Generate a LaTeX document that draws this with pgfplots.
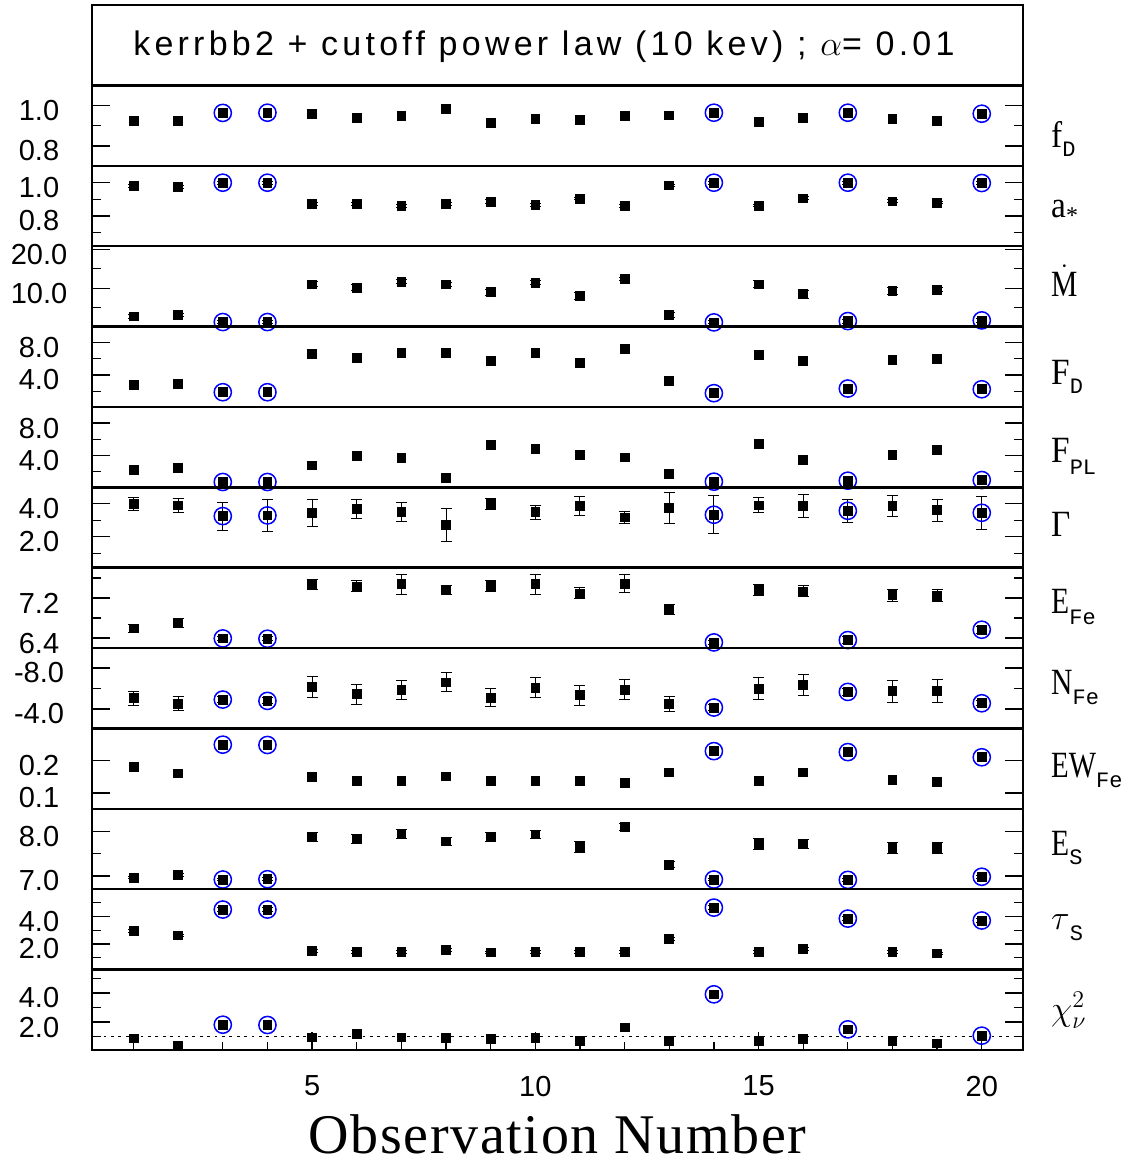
\documentclass[border=0pt]{standalone}
\usepackage{pgfplots}
\pgfplotsset{compat=1.18}
\usepgfplotslibrary{groupplots}
\usepackage{fontspec}
\setmainfont{Liberation Sans}
\newfontfamily\lserif{Liberation Serif}
\newfontfamily\lmono{Liberation Mono}
\newfontfamily\titlefont[LetterSpace=12.5]{Liberation Sans}
\newfontfamily\xlabfont[LetterSpace=3]{Liberation Serif}

% #1 raise of subscript, #2 horizontal scale, #3 main, #4 subscript
\newcommand{\lab}[4]{\scalebox{#2}[1]{\lserif\fontsize{18.5}{18.5}\selectfont #3}\raisebox{#1}{\lmono\fontsize{11}{11}\selectfont #4}}

\pgfplotsset{
 sq/.style={only marks, mark=square*, mark size=2.2pt, black},
 circ/.style={only marks, mark=o, mark size=4.3pt, blue, mark options={line width=0.75pt}},
 eb/.style={error bars/y dir=both, error bars/y explicit,
   error bars/error bar style={line width=0.5pt, black},
   error bars/error mark options={rotate=90, mark size=2.75pt, line width=0.5pt, black}},
}

\begin{document}
\begin{tikzpicture}
\begin{groupplot}[
  group style={group name=G, group size=1 by 13, vertical sep=0pt},
  width=465.5pt, height=40.2pt, scale only axis,
  xmin=0.07, xmax=20.92,
  axis line style={line width=1.2pt},
  tick align=inside,
  major tick length=9pt, minor tick length=4.5pt,
  tick style={line width=0.65pt, black},
  ticklabel style={font=\fontsize{14.5}{14.5}\selectfont},
  /pgf/number format/assume math mode=true,
  yticklabel style={/pgf/number format/.cd, fixed, fixed zerofill, precision=1, /tikz/.cd, anchor=center, xshift=-26.5pt, yshift=-2.5pt},
]
% title box
\nextgroupplot[xtick=\empty, ytick=\empty, ymin=0, ymax=1]
% f_D
\nextgroupplot[xtick=\empty, ymin=0.701, ymax=1.101, ytick={0.8,1.0}, minor ytick={0.9}]
\addplot[circ] coordinates {(3,0.964)(4,0.965)(14,0.965)(17,0.965)(20,0.960)};
\addplot[sq] coordinates {(1,0.926)(2,0.926)(3,0.964)(4,0.965)(5,0.959)(6,0.940)(7,0.950)(8,0.985)(9,0.916)(10,0.936)(11,0.931)(12,0.950)(13,0.952)(14,0.965)(15,0.921)(16,0.940)(17,0.965)(18,0.936)(19,0.926)(20,0.960)};
% a_*
\nextgroupplot[xtick=\empty, ymin=0.618, ymax=1.102, ytick={0.8,1.0}, minor ytick={0.7,0.9}]
\addplot[circ] coordinates {(3,1.0)(4,1.0)(14,1.0)(17,1.0)(20,0.998)};
\addplot[sq, eb] table[x=x, y=y, y error=e] {
x y e
1 0.982 0.008
2 0.976 0.008
3 1.000 0.010
4 1.000 0.010
5 0.870 0.008
6 0.870 0.008
7 0.858 0.008
8 0.870 0.008
9 0.886 0.010
10 0.864 0.008
11 0.904 0.008
12 0.858 0.008
13 0.984 0.008
14 1.000 0.010
15 0.862 0.008
16 0.906 0.010
17 1.000 0.010
18 0.888 0.008
19 0.880 0.008
20 0.998 0.010
};
% Mdot
\nextgroupplot[xtick=\empty, ymin=0.2, ymax=20.77, ytick={10,20}, minor ytick={5,15}]
\addplot[circ] coordinates {(3,1.35)(4,1.35)(14,1.26)(17,1.6)(20,1.77)};
\addplot[sq, eb] table[x=x, y=y, y error=e] {
x y e
1 2.80 0.45
2 3.14 0.5
3 1.35 0.45
4 1.35 0.45
5 11.0 0.6
6 10.17 0.7
7 11.7 0.6
8 11.0 0.5
9 8.97 0.8
10 11.37 0.5
11 8.10 0.9
12 12.3 0.4
13 3.14 0.6
14 1.26 0.4
15 11.0 0.9
16 8.46 1.0
17 1.60 0.5
18 9.23 0.9
19 9.66 0.6
20 1.77 0.5
};
% F_D
\nextgroupplot[xtick=\empty, ymin=0.08, ymax=9.92, ytick={4,8}, minor ytick={2,6}]
\addplot[circ] coordinates {(3,1.88)(4,1.88)(14,1.76)(17,2.33)(20,2.24)};
\addplot[sq] coordinates {(1,2.82)(2,2.94)(3,1.88)(4,1.88)(5,6.61)(6,6.12)(7,6.73)(8,6.73)(9,5.76)(10,6.73)(11,5.51)(12,7.22)(13,3.27)(14,1.76)(15,6.41)(16,5.76)(17,2.33)(18,5.84)(19,6.00)(20,2.24)};
% F_PL
\nextgroupplot[xtick=\empty, ymin=0.03, ymax=10.01, ytick={4,8}, minor ytick={2,6}]
\addplot[circ] coordinates {(3,0.69)(4,0.69)(14,0.73)(17,0.85)(20,0.93)};
\addplot[sq] coordinates {(1,2.17)(2,2.41)(3,0.69)(4,0.69)(5,2.74)(6,3.93)(7,3.69)(8,1.18)(9,5.25)(10,4.76)(11,4.01)(12,3.73)(13,1.67)(14,0.73)(15,5.37)(16,3.48)(17,0.85)(18,4.05)(19,4.63)(20,0.93)};
% Gamma
\nextgroupplot[xtick=\empty, ymin=0.13, ymax=4.99, ytick={2,4}, minor ytick={1,3}]
\addplot[circ] coordinates {(3,3.25)(4,3.29)(14,3.33)(17,3.57)(20,3.45)};
\addplot[sq, eb] table[x=x, y=y, y error=e] {
x y e
1 3.98 0.42
2 3.90 0.41
3 3.25 0.85
4 3.29 0.96
5 3.43 0.83
6 3.68 0.57
7 3.49 0.57
8 2.72 1.00
9 3.98 0.35
10 3.49 0.43
11 3.86 0.58
12 3.17 0.37
13 3.74 0.91
14 3.33 1.14
15 3.90 0.46
16 3.86 0.67
17 3.57 0.69
18 3.86 0.61
19 3.61 0.66
20 3.45 1.00
};
% E_Fe
\nextgroupplot[xtick=\empty, ymin=6.2, ymax=7.807, ytick={6.4,7.2}, minor ytick={6.8,7.6}]
\addplot[circ] coordinates {(3,6.393)(4,6.387)(14,6.313)(17,6.36)(20,6.567)};
\addplot[sq, eb] table[x=x, y=y, y error=e] {
x y e
1 6.593 0.073
2 6.700 0.087
3 6.393 0.04
4 6.387 0.04
5 7.467 0.10
6 7.433 0.11
7 7.480 0.20
8 7.367 0.09
9 7.447 0.11
10 7.480 0.20
11 7.293 0.11
12 7.487 0.18
13 6.973 0.10
14 6.313 0.04
15 7.367 0.11
16 7.333 0.11
17 6.360 0.07
18 7.260 0.12
19 7.247 0.12
20 6.567 0.07
};
% N_Fe
\nextgroupplot[xtick=\empty, y dir=reverse, ymin=-9.95, ymax=-2.08, ytick={-8,-4}, minor ytick={-6}]
\addplot[circ] coordinates {(3,-4.91)(4,-4.78)(14,-4.13)(17,-5.66)(20,-4.55)};
\addplot[sq, eb] table[x=x, y=y, y error=e] {
x y e
1 -5.04 0.68
2 -4.52 0.67
3 -4.91 0.30
4 -4.78 0.30
5 -6.15 1.00
6 -5.43 0.96
7 -5.82 0.95
8 -6.60 0.93
9 -5.10 0.86
10 -6.08 0.98
11 -5.33 0.98
12 -5.89 0.96
13 -4.46 0.72
14 -4.13 0.30
15 -5.98 1.08
16 -6.34 1.00
17 -5.66 0.35
18 -5.72 1.07
19 -5.72 1.12
20 -4.55 0.25
};
% EW_Fe
\nextgroupplot[xtick=\empty, ymin=0.0505, ymax=0.299, ytick={0.1,0.2}]
\addplot[circ] coordinates {(3,0.249)(4,0.248)(14,0.229)(17,0.226)(20,0.210)};
\addplot[sq] coordinates {(1,0.1814)(2,0.160)(3,0.249)(4,0.248)(5,0.149)(6,0.138)(7,0.136)(8,0.151)(9,0.138)(10,0.138)(11,0.138)(12,0.132)(13,0.163)(14,0.229)(15,0.138)(16,0.163)(17,0.226)(18,0.139)(19,0.135)(20,0.210)};
% E_S
\nextgroupplot[xtick=\empty, ymin=6.70, ymax=8.5, ytick={7,8}, minor ytick={7.5}]
\addplot[circ] coordinates {(3,6.918)(4,6.925)(14,6.918)(17,6.91)(20,6.98)};
\addplot[sq, eb] table[x=x, y=y, y error=e] {
x y e
1 6.963 0.03
2 7.020 0.03
3 6.918 0.03
4 6.925 0.03
5 7.88 0.10
6 7.82 0.10
7 7.93 0.10
8 7.77 0.10
9 7.87 0.10
10 7.93 0.09
11 7.65 0.12
12 8.10 0.08
13 7.25 0.07
14 6.918 0.03
15 7.72 0.12
16 7.71 0.10
17 6.91 0.03
18 7.63 0.12
19 7.63 0.12
20 6.98 0.03
};
% tau_S
\nextgroupplot[xtick=\empty, ymin=0.127, ymax=5.99, ytick={2,4}, minor ytick={1,3,5}]
\addplot[circ] coordinates {(3,4.51)(4,4.51)(14,4.65)(17,3.85)(20,3.71)};
\addplot[sq, eb] table[x=x, y=y, y error=e] {
x y e
1 2.93 0.10
2 2.62 0.10
3 4.51 0.12
4 4.51 0.12
5 1.48 0.10
6 1.43 0.10
7 1.43 0.10
8 1.58 0.10
9 1.38 0.10
10 1.41 0.10
11 1.43 0.10
12 1.43 0.10
13 2.38 0.10
14 4.65 0.12
15 1.43 0.10
16 1.62 0.10
17 3.85 0.12
18 1.43 0.10
19 1.31 0.10
20 3.71 0.12
};
% chi2
\nextgroupplot[ymin=0.086, ymax=5.59, ytick={2,4}, minor ytick={1,3,5},
  xtick={5,10,15,20},
  xtick pos=bottom,
  xticklabel style={anchor=center, yshift=-18pt}]
% short x tick marks at every observation, rising from the bottom axis
\addplot[ycomb, black, line width=0.65pt, mark=none] coordinates {(1,0.63)(2,0.63)(3,0.63)(4,0.63)(5,0.63)(6,0.63)(7,0.63)(8,0.63)(9,0.63)(10,0.63)(11,0.63)(12,0.63)(13,0.63)(14,0.63)(15,0.63)(16,0.63)(17,0.63)(18,0.63)(19,0.63)(20,0.63)};
\addplot[black, line width=0.6pt, dash pattern=on 1.4pt off 2.3pt] coordinates {(0,1) (21,1)};
\addplot[circ] coordinates {(3,1.82)(4,1.80)(14,3.90)(17,1.50)(20,1.07)};
\addplot[sq] coordinates {(1,0.886)(2,0.36)(3,1.82)(4,1.80)(5,0.95)(6,1.18)(7,0.95)(8,0.91)(9,0.84)(10,0.91)(11,0.70)(12,1.64)(13,0.70)(14,3.90)(15,0.70)(16,0.86)(17,1.50)(18,0.70)(19,0.54)(20,1.07)};
\end{groupplot}

% title
\node[anchor=center, inner sep=0pt] at ([xshift=-6.75pt, yshift=-1pt]G c1r1.center) {\titlefont\fontsize{17}{17}\selectfont kerrbb2 + cutoff power law (10 kev) ; $\alpha$= 0.01};
% x label
\node[anchor=base, inner sep=0pt] at ([yshift=-51.5pt]G c1r13.south) {\xlabfont\fontsize{28}{28}\selectfont Observation Number};
% right labels
\node[anchor=base west, inner sep=0pt] at ([xshift=14pt, yshift=-10.8pt]G c1r2.east) {\lab{-4.7pt}{0.9}{f}{D}};
\node[anchor=base west, inner sep=0pt] at ([xshift=14pt, yshift=-5.6pt]G c1r3.east) {\scalebox{0.9}[1]{\lserif\fontsize{18.5}{18.5}\selectfont a}\raisebox{-3pt}{\lserif\fontsize{12}{12}\selectfont *}};
\node[anchor=base west, inner sep=0pt] at ([xshift=14pt, yshift=-5.2pt]G c1r4.east) {\fontsize{18.5}{18.5}\selectfont$\dot{\hbox{\scalebox{0.8}[1]{\lserif M}}}$};
\node[anchor=base west, inner sep=0pt] at ([xshift=14pt, yshift=-8.7pt]G c1r5.east) {\lab{-4.7pt}{0.9}{F}{D}};
\node[anchor=base west, inner sep=0pt] at ([xshift=14pt, yshift=-7.9pt]G c1r6.east) {\lab{-6pt}{0.9}{F}{PL}};
\node[anchor=base west, inner sep=0pt] at ([xshift=14pt, yshift=-4.5pt]G c1r7.east) {\scalebox{0.9}[1]{\lserif\fontsize{18.5}{18.5}\selectfont Γ}};
\node[anchor=base west, inner sep=0pt] at ([xshift=14pt, yshift=-2.7pt]G c1r8.east) {\lab{-5.5pt}{0.8}{E}{Fe}};
\node[anchor=base west, inner sep=0pt] at ([xshift=14pt, yshift=-2.9pt]G c1r9.east) {\lab{-5.3pt}{0.8}{N}{Fe}};
\node[anchor=base west, inner sep=0pt] at ([xshift=14pt, yshift=-4.4pt]G c1r10.east) {\lab{-5pt}{0.78}{EW}{Fe}};
\node[anchor=base west, inner sep=0pt] at ([xshift=14pt, yshift=-3.1pt]G c1r11.east) {\lab{-4.5pt}{0.8}{E}{S}};
\node[anchor=base west, inner sep=0pt] at ([xshift=14pt, yshift=-0.2pt]G c1r12.east) {\fontsize{18.5}{18.5}\selectfont$\tau$\raisebox{-5.5pt}{\lmono\fontsize{11}{11}\selectfont S}};
\node[anchor=base west, inner sep=0pt] at ([xshift=14pt, yshift=-5.3pt]G c1r13.east) {\fontsize{18.5}{18.5}\selectfont$\chi^2_\nu$};

\pgfresetboundingbox
\path ([shift={(-46pt,2.5pt)}]G c1r1.north west) rectangle ([shift={(54pt,-56.5pt)}]G c1r13.south east);
\end{tikzpicture}
\end{document}
